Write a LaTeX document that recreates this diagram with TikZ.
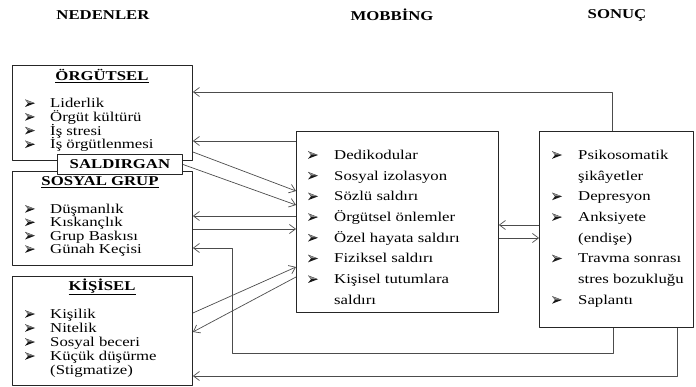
\documentclass[tikz,border=0pt]{standalone}
\usepackage{fontspec}
\setmainfont{Liberation Serif}[FakeStretch=1.24]
\usetikzlibrary{arrows.meta}
\tikzset{
  kutu/.style={draw=black!85, line width=0.9pt, inner sep=0pt, anchor=north west},
  ok/.style={draw=black!70, line width=0.7pt, -{Straight Barb[length=6pt,width=9pt]}},
  yazi/.style={anchor=base west, inner sep=0pt},
  isaret/.pic={\fill[black!90] (0,-3.8) -- (10,0) -- (0,3.8) -- (3,0) -- cycle;
    \fill[black!45] (0.6,-3.2) -- (9,-0.3) -- (3.3,-0.3) -- cycle;},
  baslik/.style={font=\fontsize{13.5}{14}\selectfont\bfseries}
}
\begin{document}
\begin{tikzpicture}[x=1pt, y=-1pt, font=\fontsize{13.5}{14}\selectfont, line join=round]
\useasboundingbox (0,0) rectangle (696,387);
% başlıklar
\node[baslik] (nedenler) at (103,15) {NEDENLER};
\node[baslik] (mobbinglik) at (392,15) {MOBBİNG};
\node[baslik] (sonuclar) at (617,15) {SONUÇ};
% kutular
\node[kutu, minimum width=180pt, minimum height=95pt] (orgutsel) at (12,65) {};
\node[kutu, minimum width=180pt, minimum height=94pt] (sosyal) at (12,171) {};
\node[kutu, minimum width=180pt, minimum height=109pt] (kisisel) at (12,276) {};
\node[kutu, minimum width=202pt, minimum height=181pt] (mobbing) at (296,131) {};
\node[kutu, minimum width=154pt, minimum height=196pt] (sonuc) at (539,131) {};
\node[kutu, fill=white, minimum width=125pt, minimum height=20pt, baslik] (saldirgan) at (57,154) {SALDIRGAN};
\node[baslik] (orgutsel-b) at (102,76) {\underline{ÖRGÜTSEL}};
\node[baslik] (sosyal-b) at (100,182) {\underline{SOSYAL GRUP}};
\node[baslik] (kisisel-b) at (102,287) {\underline{KİŞİSEL}};
% maddeler
\foreach \t [count=\i] in {Liderlik, Örgüt kültürü, İş stresi, İş örgütlenmesi}{
  \pic (org-m\i) at (25,{89.5+13.7*\i}) {isaret};
  \node[yazi] (org-\i) at (50,{94+13.7*\i}) {\t};
}
\foreach \t [count=\i] in {Düşmanlık, Kıskançlık, Grup Baskısı, Günah Keçisi}{
  \pic (sos-m\i) at (25,{195.5+13.4*\i}) {isaret};
  \node[yazi] (sos-\i) at (50,{200+13.4*\i}) {\t};
}
\foreach \b/\t [count=\i] in {1/Kişilik, 1/Nitelik, 1/Sosyal beceri, 1/Küçük düşürme, 0/{(Stigmatize)}}{
  \ifnum\b=1 \pic (kis-m\i) at (25,{300+14*\i}) {isaret}; \fi
  \node[yazi] (kis-\i) at (50,{304.5+14*\i}) {\t};
}
\foreach \b/\t [count=\i] in {1/Dedikodular, 1/Sosyal izolasyon, 1/Sözlü saldırı, 1/Örgütsel önlemler,
  1/Özel hayata saldırı, 1/Fiziksel saldırı, 1/Kişisel tutumlara, 0/saldırı}{
  \ifnum\b=1 \pic (mob-m\i) at (308,{134.3+20.7*\i}) {isaret}; \fi
  \node[yazi] (mob-\i) at (334,{138.8+20.7*\i}) {\t};
}
\foreach \b/\t [count=\i] in {1/Psikosomatik, 0/şikâyetler, 1/Depresyon, 1/Anksiyete,
  0/{(endişe)}, 1/Travma sonrası, 0/stres bozukluğu, 1/Saplantı}{
  \ifnum\b=1 \pic (son-m\i) at (552,{134.3+20.7*\i}) {isaret}; \fi
  \node[yazi] (son-\i) at (578,{138.8+20.7*\i}) {\t};
}
% oklar
\coordinate (donus) at (232,353);
\draw[ok] ([xshift=-4pt]sonuc.north) |- (orgutsel.east |- 0,92);
\draw[ok] (mobbing.west |- 0,141) -- (orgutsel.east |- 0,141);
\draw[ok] (orgutsel.east |- 0,152) -- (mobbing.west |- 0,191);
\draw[ok] (saldirgan.east) -- (mobbing.west |- 0,205);
\draw[ok] (mobbing.west |- 0,216) -- (sosyal.east |- 0,216);
\draw[ok] (sosyal.east |- 0,229) -- (mobbing.west |- 0,229);
\draw[ok] (kisisel.east |- 0,313) -- (mobbing.west |- 0,267);
\draw[ok] (mobbing.west |- 0,277) -- (kisisel.east |- 0,332);
\draw[ok] (sonuc.west |- 0,225) -- (mobbing.east |- 0,225);
\draw[ok] (mobbing.east |- 0,238) -- (sonuc.west |- 0,238);
\draw[ok] (sonuc.south -| 613,0) |- (donus) |- (sosyal.east |- 0,248);
\draw[ok] (sonuc.south -| 677,0) |- (kisisel.east |- 0,376);
\end{tikzpicture}
\end{document}
